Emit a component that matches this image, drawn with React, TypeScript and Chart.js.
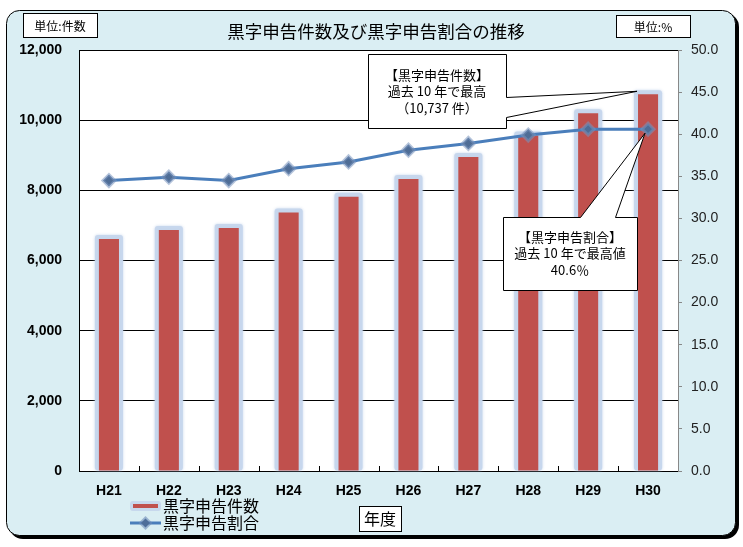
import React, { useEffect, useRef } from "react";
import { Chart, registerables } from "chart.js";
Chart.register(...registerables);

const categories = ["H21", "H22", "H23", "H24", "H25", "H26", "H27", "H28", "H29", "H30"];
const surplusCounts = [6613, 6869, 6926, 7370, 7820, 8320, 8950, 9560, 10200, 10737];
const surplusRatios = [34.5, 34.9, 34.5, 35.9, 36.7, 38.1, 38.9, 39.9, 40.6, 40.6];
const countTicks = [0, 2000, 4000, 6000, 8000, 10000, 12000];
const ratioTicks = [0, 5, 10, 15, 20, 25, 30, 35, 40, 45, 50];

const chartTitle = "黒字申告件数及び黒字申告割合の推移";
const leftUnit = "単位:件数";
const rightUnit = "単位:%";
const xTitle = "年度";
const seriesNames = ["黒字申告件数", "黒字申告割合"];
const callout1 = ["【黒字申告件数】", "過去 10 年で最高", "（10,737 件）"];
const callout2 = ["【黒字申告割合】", "過去 10 年で最高値", "40.6％"];

const JP = '"Noto Sans CJK JP", "Noto Sans", sans-serif';
const NUM = '"Liberation Sans", Arial, sans-serif';
const RED = "#c0504d";
const BLUE = "#4a7ebb";
const BG = "#daeef3";
const GLOW = "rgba(198,214,236,0.95)";

function roundRect(ctx: CanvasRenderingContext2D, x: number, y: number, w: number, h: number, r: number) {
  ctx.beginPath();
  ctx.moveTo(x + r, y);
  ctx.lineTo(x + w - r, y);
  ctx.arcTo(x + w, y, x + w, y + r, r);
  ctx.lineTo(x + w, y + h - r);
  ctx.arcTo(x + w, y + h, x + w - r, y + h, r);
  ctx.lineTo(x + r, y + h);
  ctx.arcTo(x, y + h, x, y + h - r, r);
  ctx.lineTo(x, y + r);
  ctx.arcTo(x, y, x + r, y, r);
  ctx.closePath();
}

function diamond(ctx: CanvasRenderingContext2D, x: number, y: number, r: number) {
  ctx.beginPath();
  ctx.moveTo(x, y - r);
  ctx.lineTo(x + r, y);
  ctx.lineTo(x, y + r);
  ctx.lineTo(x - r, y);
  ctx.closePath();
}

const framePlugin = {
  id: "frame",
  beforeDraw(chart: any) {
    const ctx = chart.ctx as CanvasRenderingContext2D;
    ctx.save();
    ctx.fillStyle = "#fff";
    ctx.fillRect(0, 0, chart.width, chart.height);
    ctx.fillStyle = "#000";
    roundRect(ctx, 9, 13, 730, 526, 14);
    ctx.fill();
    ctx.fillStyle = BG;
    roundRect(ctx, 6.5, 10.5, 729, 525, 13);
    ctx.fill();
    ctx.strokeStyle = "#000";
    ctx.lineWidth = 1;
    ctx.stroke();
    const a = chart.chartArea;
    ctx.fillStyle = "#fff";
    ctx.fillRect(a.left, a.top, a.right - a.left, a.bottom - a.top);
    ctx.restore();
  },
};

const glowPlugin = {
  id: "barGlow",
  beforeDatasetsDraw(chart: any) {
    const ctx = chart.ctx as CanvasRenderingContext2D;
    const meta = chart.getDatasetMeta(0);
    ctx.save();
    ctx.fillStyle = GLOW;
    ctx.shadowColor = "rgba(190,208,234,0.9)";
    ctx.shadowBlur = 3;
    meta.data.forEach((el: any) => {
      const w = el.width + 8;
      roundRect(ctx, el.x - w / 2, el.y - 4, w, el.base - el.y + 4, 3);
      ctx.fill();
    });
    ctx.restore();
  },
};

const overlayPlugin = {
  id: "overlay",
  afterDraw(chart: any) {
    const ctx = chart.ctx as CanvasRenderingContext2D;
    const a = chart.chartArea;
    const xs = chart.scales.x;
    ctx.save();

    ctx.strokeStyle = "#000";
    ctx.lineWidth = 1;
    for (let i = 1; i < categories.length; i++) {
      const x = Math.round(xs.getPixelForValue(i - 0.5)) + 0.5;
      ctx.beginPath();
      ctx.moveTo(x, a.bottom);
      ctx.lineTo(x, a.bottom - 5);
      ctx.stroke();
    }

    ctx.fillStyle = "#000";
    ctx.textAlign = "center";
    ctx.textBaseline = "middle";
    ctx.font = `17.5px ${JP}`;
    ctx.fillText(chartTitle, 376, 31);

    ctx.font = `12px ${JP}`;
    ctx.fillStyle = "#fff";
    ctx.fillRect(23, 13, 74, 24);
    ctx.strokeRect(23.5, 13.5, 74, 24);
    ctx.fillStyle = "#000";
    ctx.fillText(leftUnit, 60, 26);
    ctx.fillStyle = "#fff";
    ctx.fillRect(616, 15, 74, 22);
    ctx.strokeRect(616.5, 15.5, 74, 22);
    ctx.fillStyle = "#000";
    ctx.fillText(rightUnit, 653, 27);

    ctx.fillStyle = "#fff";
    ctx.fillRect(359, 506, 42, 25);
    ctx.strokeRect(359.5, 506.5, 42, 25);
    ctx.fillStyle = "#000";
    ctx.font = `16px ${JP}`;
    ctx.fillText(xTitle, 380, 519);

    ctx.textAlign = "left";
    ctx.fillStyle = GLOW;
    roundRect(ctx, 130, 501, 31, 10, 3);
    ctx.fill();
    ctx.fillStyle = RED;
    ctx.fillRect(133, 504, 25, 4);
    ctx.strokeStyle = BLUE;
    ctx.lineWidth = 3;
    ctx.beginPath();
    ctx.moveTo(130, 523);
    ctx.lineTo(161, 523);
    ctx.stroke();
    ctx.fillStyle = "rgba(110,140,185,0.6)";
    diamond(ctx, 145.5, 523, 7);
    ctx.fill();
    ctx.fillStyle = "#4d6d99";
    diamond(ctx, 145.5, 523, 4.5);
    ctx.fill();
    ctx.fillStyle = "#000";
    ctx.font = `16px ${JP}`;
    ctx.fillText(seriesNames[0], 163, 506);
    ctx.fillText(seriesNames[1], 163, 523);

    const bar = chart.getDatasetMeta(0).data[categories.length - 1];
    const pt = chart.getDatasetMeta(1).data[categories.length - 1];
    ctx.lineWidth = 1;
    ctx.strokeStyle = "#000";
    ctx.fillStyle = "#fff";
    ctx.beginPath();
    ctx.moveTo(368.5, 54.5);
    ctx.lineTo(506.5, 54.5);
    ctx.lineTo(506.5, 97.5);
    ctx.lineTo(bar.x - bar.width / 2 - 1, bar.y - 3);
    ctx.lineTo(506.5, 117.5);
    ctx.lineTo(506.5, 128.5);
    ctx.lineTo(368.5, 128.5);
    ctx.closePath();
    ctx.fill();
    ctx.stroke();

    ctx.beginPath();
    ctx.moveTo(503.5, 217.5);
    ctx.lineTo(580.5, 217.5);
    ctx.lineTo(pt.x - 3, pt.y + 4);
    ctx.lineTo(615.5, 217.5);
    ctx.lineTo(637.5, 217.5);
    ctx.lineTo(637.5, 290.5);
    ctx.lineTo(503.5, 290.5);
    ctx.closePath();
    ctx.fill();
    ctx.stroke();

    ctx.fillStyle = "#000";
    ctx.textAlign = "center";
    ctx.font = `13px ${JP}`;
    callout1.forEach((t, i) => ctx.fillText(t, 437, 75 + i * 16.5));
    callout2.forEach((t, i) => ctx.fillText(t, 570, 237 + i * 16.5));

    ctx.restore();
  },
};

export default function App() {
  const ref = useRef<HTMLCanvasElement | null>(null);
  useEffect(() => {
    if (!ref.current) return;
    const chart = new Chart(ref.current, {
      type: "bar",
      data: {
        labels: categories,
        datasets: [
          {
            type: "bar",
            label: seriesNames[0],
            data: surplusCounts,
            backgroundColor: RED,
            borderWidth: 0,
            barPercentage: 0.335,
            categoryPercentage: 1,
            yAxisID: "y",
            order: 2,
          },
          {
            type: "line",
            label: seriesNames[1],
            data: surplusRatios,
            borderColor: BLUE,
            borderWidth: 3,
            pointStyle: "rectRot",
            pointRadius: 6,
            pointBackgroundColor: "#4f6d96",
            pointBorderColor: "rgba(120,148,190,0.55)",
            pointBorderWidth: 3,
            tension: 0,
            yAxisID: "y1",
            order: 1,
          } as any,
        ],
      },
      options: {
        responsive: false,
        animation: false,
        layout: { padding: { top: 50, left: 0, right: 0, bottom: 0 } },
        plugins: {
          legend: { display: false },
          tooltip: { enabled: false },
          title: { display: false },
        },
        scales: {
          x: {
            grid: { display: false, drawTicks: false },
            border: { display: true, color: "#000", width: 1 },
            ticks: {
              color: "#000",
              font: { family: NUM, size: 14, weight: "bold" },
              padding: 12,
              maxRotation: 0,
            },
            afterFit: (s: any) => {
              s.height = 76;
            },
          },
          y: {
            position: "left",
            min: countTicks[0],
            max: countTicks[countTicks.length - 1],
            afterBuildTicks: (s: any) => {
              s.ticks = countTicks.map((v) => ({ value: v }));
            },
            ticks: {
              color: "#000",
              font: { family: NUM, size: 14, weight: "bold" },
              padding: 17,
              callback: (v: any) => Number(v).toLocaleString("en-US"),
            },
            grid: { color: "#000", drawTicks: false, lineWidth: 1 },
            border: { color: "#000" },
            afterFit: (s: any) => {
              s.width = 79;
            },
          },
          y1: {
            position: "right",
            min: ratioTicks[0],
            max: ratioTicks[ratioTicks.length - 1],
            afterBuildTicks: (s: any) => {
              s.ticks = ratioTicks.map((v) => ({ value: v }));
            },
            ticks: {
              color: "#222",
              font: { family: NUM, size: 14 },
              padding: 9,
              callback: (v: any) => Number(v).toFixed(1),
            },
            grid: { drawOnChartArea: false, color: "#888", tickLength: 4 },
            border: { color: "#888" },
            afterFit: (s: any) => {
              s.width = 65;
            },
          },
        },
      } as any,
      plugins: [framePlugin, glowPlugin, overlayPlugin],
    });
    return () => chart.destroy();
  }, []);

  return (
    <div style={{ position: "absolute", left: 0, top: 0, width: 743, height: 547 }}>
      <canvas ref={ref} width={743} height={547} />
    </div>
  );
}
